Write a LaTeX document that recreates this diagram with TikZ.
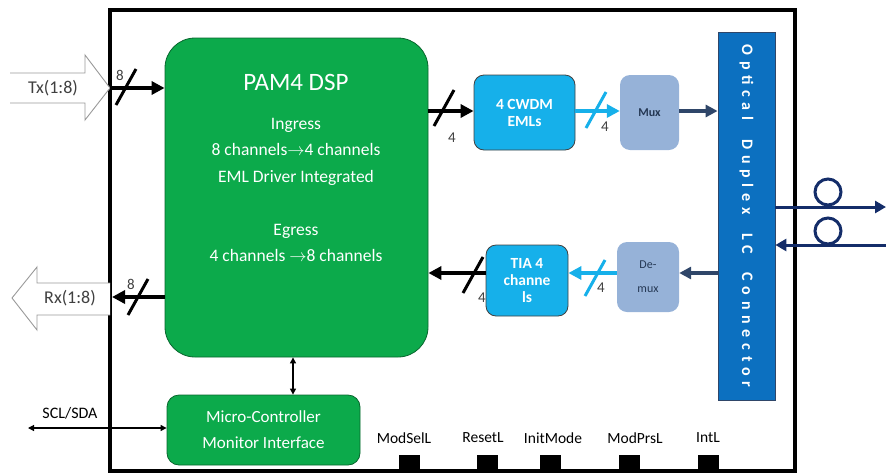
\documentclass[tikz,border=0pt]{standalone}
\usepackage{fontspec}
\setmainfont{Carlito}
\usetikzlibrary{arrows.meta}
\definecolor{dspgreen}{RGB}{12,170,75}
\definecolor{emlcyan}{RGB}{22,176,234}
\definecolor{muxblue}{RGB}{150,178,216}
\definecolor{lcblue}{RGB}{12,112,192}
\definecolor{navyline}{RGB}{47,70,105}
\definecolor{fibreblue}{RGB}{20,45,105}
\definecolor{labelgrey}{RGB}{64,64,64}
\tikzset{
  busslash/.pic={\draw[line width=3pt] (-10,18) -- (10,-18);}
}
\begin{document}
\begin{tikzpicture}[x=1pt,y=-1pt,
  greenbox/.style={fill=dspgreen,draw=dspgreen!60!black,line width=0.8pt,inner sep=0pt},
  cyanbox/.style={fill=emlcyan,draw=black!75,line width=0.8pt,rounded corners=10pt,inner sep=0pt,
    text=white,align=center,font=\bfseries\fontsize{15.5}{17}\selectfont},
  greybox/.style={fill=muxblue,rounded corners=10pt,inner sep=0pt,text=navyline!80!black,
    align=center,font=\fontsize{12}{24}\selectfont},
  whitetext/.style={text=white,align=center},
  bus/.style={line width=3.5pt,-{Triangle[length=13pt,width=13pt]}},
  cyanbus/.style={bus,emlcyan},
  navybus/.style={line width=3.5pt,navyline,-{Triangle[length=12pt,width=12pt]}},
  ctrl/.style={line width=1.2pt,{Triangle[length=6pt,width=6pt]}-{Triangle[length=6pt,width=6pt]}},
  fibre/.style={line width=3pt,fibreblue},
  hollowarrow/.style={draw=black!40,line width=0.9pt,fill=white},
  numlabel/.style={text=labelgrey,font=\fontsize{15}{15}\selectfont},
  pinpad/.style={fill=black,minimum width=21pt,minimum height=16pt,inner sep=0pt},
  pinlabel/.style={text=black,font=\fontsize{15.5}{15.5}\selectfont}
]
\useasboundingbox (0,0) rectangle (886,472);

\draw[line width=4pt] (110,10) rectangle (795,471);

\node[greenbox,rounded corners=30pt,minimum width=263pt,minimum height=319pt] (dsp) at (296.5,197.5) {};
\node[whitetext,font=\fontsize{25}{25}\selectfont] (dsptitle) at (296,82) {PAM4 DSP};
\node[whitetext,font=\fontsize{17.5}{26.5}\selectfont] (dspbody) at (296,190)
  {Ingress\\8 channels$\rightarrow$4 channels\\EML Driver Integrated\\[26.5pt]Egress\\4 channels $\rightarrow$8 channels};

\node[greenbox,rounded corners=12pt,minimum width=193pt,minimum height=70pt,whitetext,
  font=\fontsize{17}{26}\selectfont] (mcu) at (263.5,430) {Micro-Controller\\Monitor Interface};

\node[cyanbox,minimum width=101pt,minimum height=75pt] (eml) at (524.5,112.5) {4 CWDM\\EMLs};
\node[greybox,font=\bfseries\fontsize{12}{12}\selectfont,minimum width=59pt,minimum height=75pt] (mux) at (649.5,112.5) {Mux};
\node[cyanbox,minimum width=82pt,minimum height=71pt] (tia) at (527,280.5) {TIA 4\\channe\\ls};
\node[greybox,minimum width=62pt,minimum height=70pt] (demux) at (648,277) {De-\\mux};

\node[fill=lcblue,draw=navyline,line width=0.8pt,minimum width=57pt,minimum height=368pt,inner sep=0pt] (lc) at (746.5,216) {};
\node[rotate=-90,text=white,font=\bfseries\fontsize{16}{16}\selectfont\addfontfeature{LetterSpace=36}] (lctext) at (lc.center)
  {Optical\ \ Duplex\ \ LC\ \ Connector};

\draw[hollowarrow] (10,73) -- (85,73) -- (85,55) -- (110,88) -- (85,120) -- (85,103) -- (10,103);
\node[text=labelgrey,font=\fontsize{18}{18}\selectfont] (txlabel) at (53,88) {Tx(1:8)};
\draw[hollowarrow] (110,283) -- (37,283) -- (37,267) -- (12,298) -- (37,330) -- (37,315) -- (110,315);
\node[text=labelgrey,font=\fontsize{18}{18}\selectfont] (rxlabel) at (70,298) {Rx(1:8)};

\coordinate (txrow) at (110,88);
\coordinate (rxrow) at (112,297);
\coordinate (emlrow) at (450,111);
\coordinate (tiarow) at (450,273);
\coordinate (mcux) at (293,0);
\coordinate (sclend) at (28,428);
\coordinate (fibreout) at (886,207);
\coordinate (fibrein) at (886,245);

\draw[bus] (txrow) -- (txrow -| dsp.west);
\draw[bus] (rxrow -| dsp.west) -- (rxrow);
\draw[bus] (emlrow -| dsp.east) -- (emlrow -| eml.west);
\draw[cyanbus] (emlrow -| eml.east) -- (emlrow -| mux.west);
\draw[navybus] (emlrow -| mux.east) -- (emlrow -| lc.west);
\draw[navybus] (tiarow -| lc.west) -- (tiarow -| demux.east);
\draw[cyanbus] (tiarow -| demux.west) -- (tiarow -| tia.east);
\draw[bus] (tiarow -| tia.west) -- (tiarow -| dsp.east);

\path (126,87) pic{busslash};
\path (138,297) pic{busslash};
\path (444,108) pic{busslash};
\path[emlcyan] (596,110) pic{busslash};
\path (473,275) pic{busslash};
\path[emlcyan] (595,278) pic{busslash};
\node[numlabel] (n1) at (120,75) {8};
\node[numlabel] (n2) at (131,284) {8};
\node[numlabel] (n3) at (452,138) {4};
\node[numlabel] (n4) at (605,127) {4};
\node[numlabel] (n5) at (482,298) {4};
\node[numlabel] (n6) at (601,288) {4};

\draw[ctrl] (dsp.south -| mcux) -- (mcu.north -| mcux);
\draw[ctrl] (sclend) -- (sclend -| mcu.west);
\node[font=\fontsize{16}{16}\selectfont] (scl) at (70,413) {SCL/SDA};

\draw[fibre,-{Triangle[length=11pt,width=12pt]}] (fibreout -| lc.east) -- (fibreout);
\draw[fibre,-{Triangle[length=11pt,width=12pt]}] (fibrein) -- (fibrein -| lc.east);
\draw[fibre] (828,192) circle (13);
\draw[fibre] (828,231) circle (13);

\foreach \name/\px/\lx in {ModSelL/409/404,ResetL/487/483,InitMode/550/553,ModPrsL/629/635,IntL/708/708}{
  \node[pinpad] (\name) at (\px,463) {};
  \node[pinlabel] (\name-text) at (\lx,438) {\name};
}
\end{tikzpicture}
\end{document}
